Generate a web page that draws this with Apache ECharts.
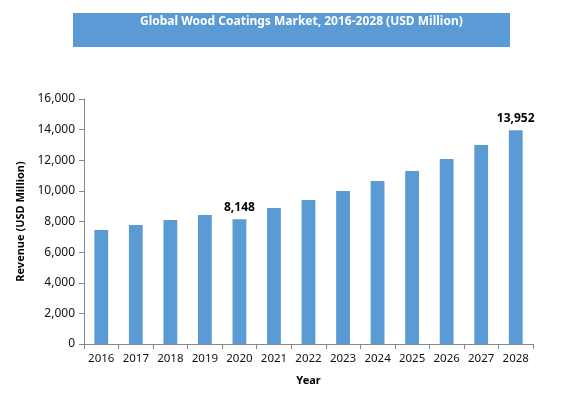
<!DOCTYPE html>
<html>
<head>
<meta charset="utf-8">
<script src="https://cdn.jsdelivr.net/npm/echarts@6/dist/echarts.min.js"></script>
<style>
html, body { margin: 0; padding: 0; background: #fff; }
#main { width: 584px; height: 398px; }
</style>
</head>
<body>
<div id="main"></div>
<script>
var years = ['2016','2017','2018','2019','2020','2021','2022','2023','2024','2025','2026','2027','2028'];
var revenue = [7450, 7770, 8100, 8430, 8148, 8880, 9400, 9990, 10640, 11300, 12080, 13000, 13952];
var labelled = ['2020', '2028'];   // only these bars carry a value label

var chart = echarts.init(document.getElementById('main'));

var barData = revenue.map(function (v, i) {
    var item = { value: v };
    if (labelled.indexOf(years[i]) >= 0) {
        item.label = { show: true };
    }
    return item;
});

var option = {
    animation: false,
    backgroundColor: '#ffffff',
    textStyle: { fontFamily: 'Noto Sans' },
    graphic: [
        {
            type: 'rect',
            left: 73, top: 13,
            shape: { width: 437, height: 34 },
            style: { fill: '#5b9bd5' }
        },
        {
            type: 'text',
            left: 140, top: 16,
            style: {
                text: 'Global Wood Coatings Market, 2016-2028 (USD Million)',
                fill: '#ffffff',
                font: 'bold 12px "Noto Sans"'
            }
        }
    ],
    grid: { left: 84, right: 51, top: 99, bottom: 54 },
    xAxis: {
        type: 'category',
        data: years,
        name: 'Year',
        nameLocation: 'middle',
        nameGap: 31,
        nameTextStyle: { color: '#000', fontWeight: 'bold', fontSize: 11 },
        axisLine: { lineStyle: { color: '#888', width: 1 } },
        axisTick: { show: true, length: 5, lineStyle: { color: '#888' } },
        axisLabel: { color: '#111', fontSize: 11.5, margin: 9, interval: 0 }
    },
    yAxis: {
        type: 'value',
        min: 0, max: 16000, interval: 2000,
        name: 'Revenue (USD Million)',
        nameLocation: 'middle',
        nameGap: 58,
        nameTextStyle: { color: '#000', fontWeight: 'bold', fontSize: 11 },
        axisLine: { show: true, lineStyle: { color: '#888', width: 1 } },
        axisTick: { show: true, length: 5, lineStyle: { color: '#888' } },
        axisLabel: {
            color: '#111', fontSize: 12, margin: 9,
            formatter: function (v) { return v.toLocaleString('en-US'); }
        },
        splitLine: { show: false }
    },
    series: [{
        type: 'bar',
        data: barData,
        barWidth: '40%',
        itemStyle: { color: '#5b9bd5' },
        label: {
            show: false,
            position: 'top',
            distance: 6,
            color: '#000',
            fontWeight: 'bold',
            fontSize: 12,
            formatter: function (p) { return p.value.toLocaleString('en-US'); }
        }
    }]
};

chart.setOption(option);
</script>
</body>
</html>
